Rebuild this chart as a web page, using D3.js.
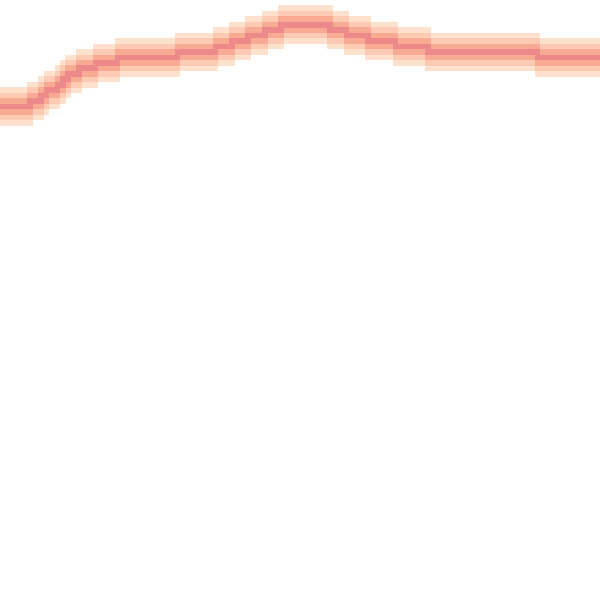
<!DOCTYPE html>
<html>
<head>
<meta charset="utf-8">
<script src="https://cdn.jsdelivr.net/npm/d3@7"></script>
<style>
  html, body { margin: 0; padding: 0; background: #fff; }
  svg { display: block; }
</style>
</head>
<body>
<svg id="chart" width="600" height="600"></svg>
<script>
// Time positions (t) and line values
const times  = [0, 27, 44, 55, 65, 80, 95, 110, 130, 150, 170, 190, 210, 230, 245, 257, 270, 285, 300, 320, 335, 350, 365, 380, 400, 420, 450, 480, 510, 540, 570, 590, 600];
const values = [82.3, 82.7, 84.0, 85.3, 86.7, 88.2, 89.2, 89.8, 90.5, 90.8, 90.8, 91.2, 91.6, 92.5, 93.3, 94.2, 95.0, 95.8, 96.0, 96.0, 95.2, 94.3, 93.7, 93.2, 92.5, 92.0, 91.5, 91.5, 91.3, 90.9, 90.7, 90.3, 90.1];
// Density levels: 0 = on the line, 1..3 = bins away from it
const densityColors = ["#ec8a8b", "#f9aa93", "#fdcbb3", "#fee1cd"];
const bins = 110;

const width = 600, height = 600;
const svg = d3.select("#chart");

const x = d3.scaleLinear().domain([0, 600]).range([0, width]);
const y = d3.scaleLinear().domain([0, 100]).range([height, 0]);
const line = d3.scaleLinear().domain(times).range(values);   // piecewise line through the read points
const color = d3.scaleOrdinal().domain([0, 1, 2, 3]).range(densityColors);

const cell = width / bins;
const cells = [];
for (let c = 0; c < bins; c++) {
  const tL = x.invert(c * cell), tR = x.invert((c + 1) * cell);
  const ys = [y(line(tL)), y(line((tL + tR) / 2)), y(line(tR))];
  const rmin = Math.floor(d3.min(ys) / cell), rmax = Math.floor(d3.max(ys) / cell);
  for (let r = rmin - 3; r <= rmax + 3; r++) {
    const dist = r < rmin ? rmin - r : r > rmax ? r - rmax : 0;
    cells.push({c, r, dist});
  }
}

svg.append("g")
  .attr("shape-rendering", "crispEdges")
  .selectAll("rect")
  .data(cells.sort((a, b) => b.dist - a.dist))
  .join("rect")
  .attr("x", d => d.c * cell)
  .attr("y", d => d.r * cell)
  .attr("width", cell + 0.3)
  .attr("height", cell + 0.3)
  .attr("fill", d => color(d.dist));
</script>
</body>
</html>
